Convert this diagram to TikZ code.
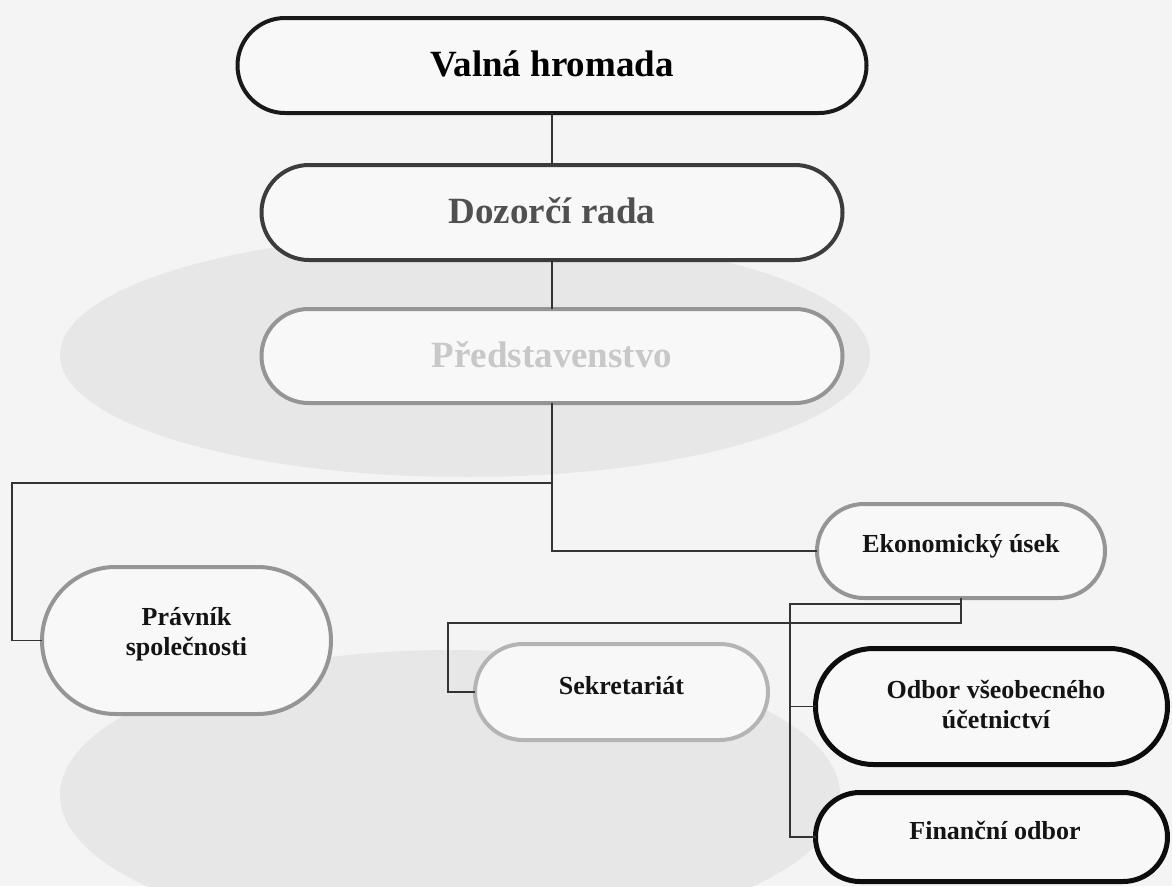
\documentclass[tikz,border=0pt]{standalone}
\usepackage{fontspec}
\setmainfont{Liberation Serif}
\definecolor{bgcol}{HTML}{F4F4F4}
\definecolor{ellcol}{HTML}{E7E7E7}
\definecolor{boxfill}{HTML}{F8F8F8}
\definecolor{linecol}{HTML}{333333}
\definecolor{darkgray}{HTML}{3C3C3C}
\definecolor{midgray}{HTML}{959595}
\definecolor{lightgray}{HTML}{B4B4B4}
\definecolor{paletext}{HTML}{C8C8C8}
\begin{document}
\begin{tikzpicture}[x=1pt,y=-1pt,
  stad/.style={draw, fill=boxfill, inner sep=0pt, outer sep=0pt},
  link/.style={draw=linecol, line width=1.4pt},
  bigtxt/.style={font=\bfseries\fontsize{37}{40}\selectfont, anchor=base, inner sep=0pt},
  smalltxt/.style={font=\bfseries\fontsize{26}{30}\selectfont, anchor=base, inner sep=0pt, align=center, text=black!92},
]
\useasboundingbox (0,0) rectangle (1172,886);
\fill[bgcol] (0,0) rectangle (1172,886);
\fill[ellcol] (465,355) ellipse [x radius=405, y radius=122];
\fill[ellcol] (450,795) ellipse [x radius=390, y radius=145];

% boxes
\node[stad, draw=black!90, line width=4pt, minimum width=629pt, minimum height=95pt, rounded corners=47.5pt] (valna) at (552,65.5) {};
\node[stad, draw=darkgray, line width=4pt, minimum width=581pt, minimum height=95pt, rounded corners=47.5pt] (dozorci) at (552,212.5) {};
\node[stad, draw=midgray, line width=4pt, minimum width=581pt, minimum height=94pt, rounded corners=47pt] (predst) at (552,356) {};
\node[stad, draw=midgray, line width=4pt, minimum width=288pt, minimum height=94pt, rounded corners=47pt] (ekon) at (961,551) {};
\node[stad, draw=midgray, line width=4pt, minimum width=289pt, minimum height=147pt, rounded corners=73.5pt] (pravnik) at (186.5,640.5) {};
\node[stad, draw=lightgray, line width=4pt, minimum width=293pt, minimum height=96pt, rounded corners=48pt] (sekr) at (621.5,692) {};
\node[stad, draw=black!95, line width=5pt, minimum width=352pt, minimum height=116pt, rounded corners=58pt] (odbor) at (991.5,706.5) {};
\node[stad, draw=black!95, line width=5pt, minimum width=352pt, minimum height=89pt, rounded corners=44.5pt] (financ) at (991.5,837) {};

% texts
\node[bigtxt, text=black] (tvalna) at (552,76) {Valná hromada};
\node[bigtxt, text=darkgray!90] (tdozorci) at (552,223) {Dozorčí rada};
\node[bigtxt, text=paletext] (tpredst) at (552,367) {Představenstvo};
\node[smalltxt] (tekon) at (961,552) {Ekonomický úsek};
\node[smalltxt] (tpravnik) at (186.5,655) {Právník\\společnosti};
\node[smalltxt] (tsekr) at (621.5,694) {Sekretariát};
\node[smalltxt] (todbor) at (996,728) {Odbor všeobecného\\účetnictví};
\node[smalltxt] (tfinanc) at (995,839) {Finanční odbor};

% connectors
\draw[link] (valna.south) -- (dozorci.north);
\draw[link] (dozorci.south) -- (predst.north);
\coordinate (pl) at (12,483);
\draw[link] (predst.south) -- (predst.south |- ekon.west) -- (ekon.west);
\draw[link] (predst.south |- pl) -- (pl) |- (pravnik.west);
\coordinate (sj) at (448,692);
\draw[link] (ekon.south) -- ++(0,25) -| (sj) -- (sekr.west);
\coordinate (oj) at (790,706.5);
\draw[link] (ekon.south) -- ++(0,6) -| (oj) -- (odbor.west);
\draw[link] (oj) |- (financ.west);
\end{tikzpicture}
\end{document}
